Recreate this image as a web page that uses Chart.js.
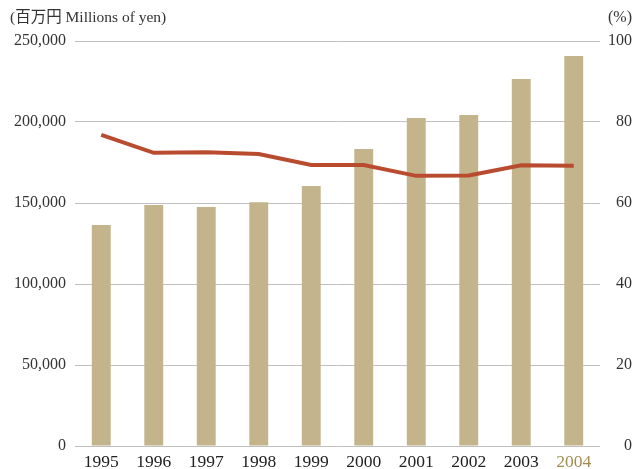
<!DOCTYPE html>
<html>
<head>
<meta charset="utf-8">
<script src="https://cdn.jsdelivr.net/npm/chart.js@4/dist/chart.umd.min.js"></script>
<style>
  html, body { margin: 0; padding: 0; background: #fff; }
  #wrap { width: 635px; height: 469px; position: relative; }
</style>
</head>
<body>
<div id="wrap"><canvas id="c" width="635" height="469"></canvas></div>
<script>
// Fiscal years
const years = ['1995', '1996', '1997', '1998', '1999', '2000', '2001', '2002', '2003', '2004'];
// Amounts, millions of yen (left axis)
const amounts = [136400, 148800, 147500, 150400, 160500, 183300, 202500, 204300, 226500, 240700];
// Ratio, % (right axis)
const ratios = [76.8, 72.4, 72.5, 72.1, 69.4, 69.4, 66.7, 66.8, 69.3, 69.2];
// Axis unit captions
const leftUnit = '(百万円 Millions of yen)';
const rightUnit = '(%)';

const serif = '"Liberation Serif", "DejaVu Serif", serif';
const cjkSerif = '"Liberation Serif", "Noto Sans CJK JP", serif';

const unitCaptions = {
  id: 'unitCaptions',
  afterDraw(chart) {
    const ctx = chart.ctx;
    ctx.save();
    ctx.fillStyle = '#333';
    ctx.font = '15.5px ' + cjkSerif;
    ctx.textBaseline = 'middle';
    ctx.textAlign = 'left';
    ctx.fillText(leftUnit, 10, 18);
    ctx.font = '16px ' + serif;
    ctx.textAlign = 'right';
    ctx.fillText(rightUnit, 632, 18);
    ctx.restore();
  }
};

new Chart(document.getElementById('c'), {
  data: {
    labels: years,
    datasets: [
      {
        type: 'line',
        data: ratios,
        yAxisID: 'yR',
        borderColor: '#b94b2f',
        borderWidth: 4,
        pointRadius: 0,
        tension: 0,
        order: 0
      },
      {
        type: 'bar',
        data: amounts,
        yAxisID: 'yL',
        backgroundColor: '#c4b48b',
        barPercentage: 0.36,
        categoryPercentage: 1,
        order: 1
      }
    ]
  },
  options: {
    responsive: false,
    animation: false,
    layout: { padding: { top: 41, right: 3, left: 0, bottom: 0 } },
    plugins: { legend: { display: false }, tooltip: { enabled: false } },
    scales: {
      x: {
        offset: true,
        grid: { display: false, drawTicks: false },
        border: { display: false },
        ticks: {
          padding: 6,
          maxRotation: 0,
          font: { family: serif, size: 17.5 },
          color: (c) => c.index === 9 ? '#a38c52' : '#222'
        },
        afterFit(s) { s.height = 23; }
      },
      yL: {
        position: 'left',
        min: 0,
        max: 250000,
        grid: { color: '#c0c0c0', lineWidth: 1, drawTicks: false },
        border: { display: false },
        ticks: {
          stepSize: 50000,
          padding: 9,
          font: { family: serif, size: 16 },
          color: '#333',
          callback: (v) => v.toLocaleString('en-US')
        },
        afterFit(s) { s.width = 75; }
      },
      yR: {
        position: 'right',
        min: 0,
        max: 100,
        grid: { display: false, drawTicks: false },
        border: { display: false },
        ticks: {
          stepSize: 20,
          padding: 0,
          crossAlign: 'far',
          font: { family: serif, size: 16 },
          color: '#333'
        },
        afterFit(s) { s.width = 32; }
      }
    }
  },
  plugins: [unitCaptions]
});
</script>
</body>
</html>
